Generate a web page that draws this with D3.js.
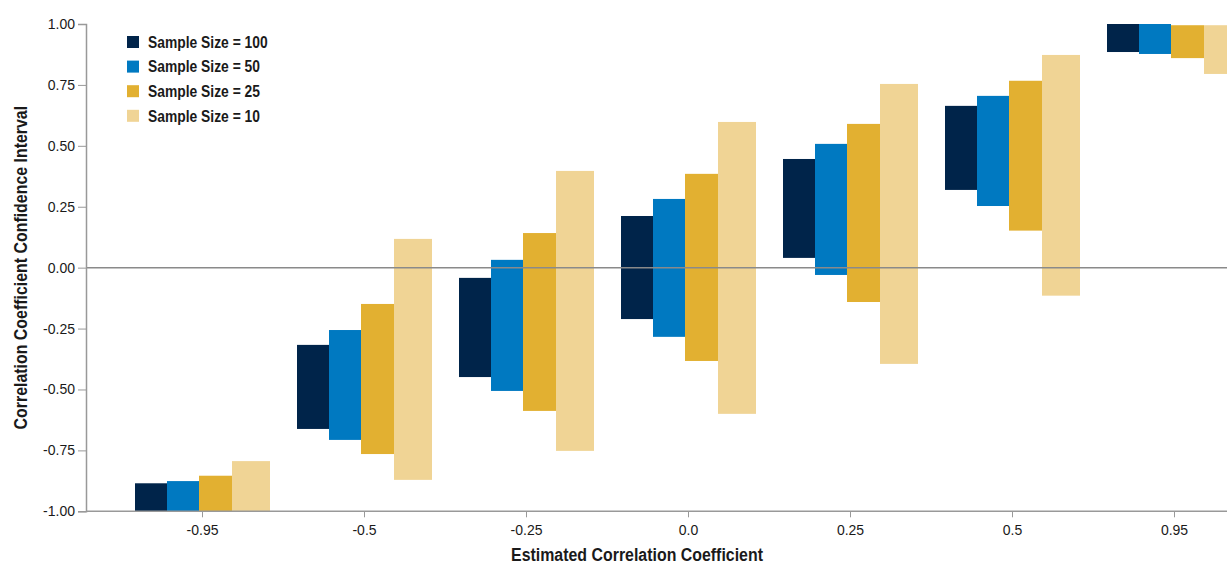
<!DOCTYPE html>
<html>
<head>
<meta charset="utf-8">
<script src="https://cdn.jsdelivr.net/npm/d3@7"></script>
<style>
  html, body { margin: 0; padding: 0; background: #fff; }
  svg { display: block; }
  .tick text { font-family: "Liberation Sans", Arial, sans-serif; font-size: 14px; fill: #1a1a1a; }
  .title { font-family: "Liberation Sans", Arial, sans-serif; font-weight: bold; fill: #1a1a1a; }
  .legend text { font-family: "Liberation Sans", Arial, sans-serif; font-weight: bold; font-size: 16.5px; fill: #1a1a1a; }
</style>
</head>
<body>
<svg id="chart" width="1227" height="565"></svg>
<script>
// Estimated correlation coefficients (x categories)
const categories = ["-0.95", "-0.5", "-0.25", "0.0", "0.25", "0.5", "0.95"];

// Series: confidence interval bounds per sample size
const seriesNames = ["Sample Size = 100", "Sample Size = 50", "Sample Size = 25", "Sample Size = 10"];
const n100Low  = [-1.00, -0.662, -0.449, -0.211, 0.040, 0.319, 0.885];
const n100High = [-0.885, -0.317, -0.042, 0.212, 0.446, 0.664, 1.00];
const n50Low   = [-1.00, -0.707, -0.506, -0.284, -0.030, 0.253, 0.877];
const n50High  = [-0.876, -0.256, 0.032, 0.282, 0.508, 0.705, 1.00];
const n25Low   = [-1.00, -0.765, -0.588, -0.383, -0.141, 0.152, 0.860];
const n25High  = [-0.854, -0.149, 0.142, 0.385, 0.590, 0.767, 0.995];
const n10Low   = [-1.00, -0.871, -0.752, -0.600, -0.395, -0.115, 0.795];
const n10High  = [-0.794, 0.118, 0.397, 0.598, 0.754, 0.873, 0.995];

// Y axis tick values
const yTicks = [-1.00, -0.75, -0.50, -0.25, 0.00, 0.25, 0.50, 0.75, 1.00];

const colors = ["#00244a", "#0079c1", "#e2b031", "#f0d495"];

const lows = [n100Low, n50Low, n25Low, n10Low];
const highs = [n100High, n50High, n25High, n10High];
const bars = [];
seriesNames.forEach((s, si) => {
  categories.forEach((c, ci) => {
    bars.push({ series: s, si, cat: c, low: lows[si][ci], high: highs[si][ci] });
  });
});

const W = 1227, H = 565;
const plotLeft = 86, plotTop = 24, plotBottom = 511.3;
const narrow = 0.86; // horizontal squeeze for a condensed look
const svg = d3.select("#chart");

const y = d3.scaleLinear().domain([-1, 1]).range([plotBottom, plotTop]);

const x = d3.scaleBand()
  .domain(categories)
  .range([121.5, 1255.5])
  .paddingInner(1 / 6)
  .paddingOuter(1 / 12);

// Sub-band layout: the lightest series is drawn slightly wider
const weights = [32, 32, 33, 38];
const wTotal = d3.sum(weights);
const subX = d3.scaleLinear().domain([0, wTotal]).range([0, x.bandwidth()]);
const offsets = weights.map((w, i) => d3.sum(weights.slice(0, i)));

// Bars
svg.append("g").selectAll("rect")
  .data(bars)
  .join("rect")
  .attr("x", d => x(d.cat) + subX(offsets[d.si]))
  .attr("width", d => subX(weights[d.si]))
  .attr("y", d => y(d.high))
  .attr("height", d => y(d.low) - y(d.high))
  .attr("fill", d => colors[d.si]);

// Zero reference line
svg.append("line")
  .attr("x1", plotLeft).attr("x2", W)
  .attr("y1", y(0)).attr("y2", y(0))
  .attr("stroke", "#8a8a8a").attr("stroke-width", 1.5);

// Y axis (plain hyphen for negatives)
const fmt = d3.format(".2f");
const yAxis = svg.append("g")
  .attr("transform", `translate(${plotLeft},0)`)
  .call(d3.axisLeft(y).tickValues(yTicks)
    .tickFormat(d => fmt(d).replace("\u2212", "-")).tickSize(8).tickPadding(3));
yAxis.select(".domain").attr("stroke", "#999").attr("stroke-width", 1.5);
yAxis.selectAll(".tick line").attr("stroke", "#999");

// X axis
const xAxis = svg.append("g")
  .attr("transform", `translate(0,${plotBottom})`)
  .call(d3.axisBottom(x).tickSize(6).tickPadding(8));
xAxis.select(".domain").remove();
xAxis.selectAll(".tick line").attr("stroke", "#999");
xAxis.append("line")
  .attr("x1", plotLeft).attr("x2", W).attr("y1", 0).attr("y2", 0)
  .attr("stroke", "#999").attr("stroke-width", 1.5);

// Axis titles
svg.append("text").attr("class", "title")
  .attr("transform", `translate(637,561) scale(${narrow},1)`)
  .attr("text-anchor", "middle").style("font-size", "18.5px")
  .text("Estimated Correlation Coefficient");

svg.append("text").attr("class", "title")
  .attr("transform", `translate(27,${(plotTop + plotBottom) / 2}) rotate(-90) scale(${narrow},1)`)
  .attr("text-anchor", "middle").style("font-size", "18.5px")
  .text("Correlation Coefficient Confidence Interval");

// Legend
const legend = svg.append("g").attr("class", "legend").attr("transform", "translate(127,42)");
const li = legend.selectAll("g").data(seriesNames).join("g")
  .attr("transform", (d, i) => `translate(0,${i * 24.6})`);
li.append("rect").attr("x", 0).attr("y", -6).attr("width", 12).attr("height", 12)
  .attr("fill", (d, i) => colors[i]);
li.append("text")
  .attr("transform", `translate(21,0) scale(0.84,1)`)
  .attr("dy", "0.35em").text(d => d);
</script>
</body>
</html>
